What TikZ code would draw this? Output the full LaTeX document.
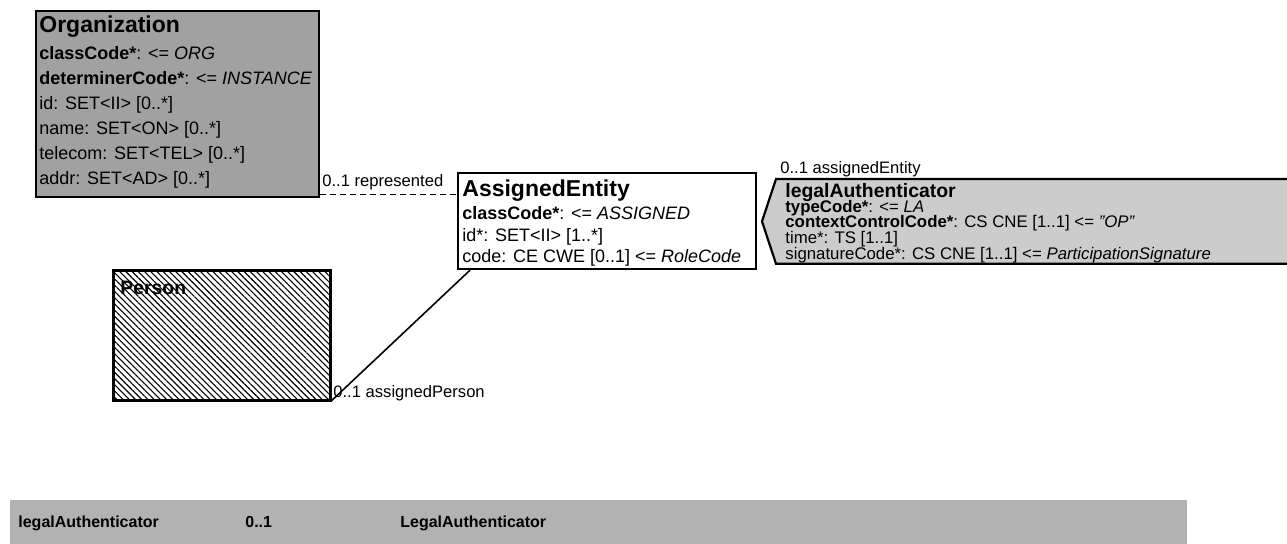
\documentclass[tikz,border=0pt]{standalone}
\usepackage{fontspec}
\setmainfont{Liberation Sans}[Ligatures=ResetAll]
\usetikzlibrary{patterns.meta}
\newcommand{\ttl}{\fontsize{11.5}{12}\selectfont\bfseries}
\newcommand{\ttls}{\fontsize{9.7}{10}\selectfont\bfseries}
\newcommand{\tightrows}{\fontsize{8.4}{7.9}\selectfont\lineskiplimit=-20pt\relax}
\tikzset{
  clsbox/.style={draw, line width=1.1pt, inner sep=0pt, anchor=north west},
  clstext/.style={anchor=north west, align=left, inner sep=0pt},
  assoclbl/.style={anchor=base west, inner sep=0pt, font=\fontsize{8.3}{9}\selectfont},
  rowtext/.style={anchor=base west, inner sep=0pt, font=\fontsize{8}{9}\selectfont\bfseries},
}

\begin{document}
\begin{tikzpicture}[x=0.5pt,y=-0.5pt]
   \useasboundingbox (0,0) rectangle (1287,544);
   % classes
   \node (org) [clsbox, fill=black!37, minimum width=141.5pt, minimum height=93pt] at (35,10) {};
   \node (orgtxt) [clstext, font=\fontsize{9}{12.5}\selectfont] at (39,15)
     {{\ttl Organization}\\[1pt]
      \textbf{classCode*}: <= \textit{ORG}\\
      \textbf{determinerCode*}: <= \textit{INSTANCE}\\
      id: SET<II> [0..*]\\
      name: SET<ON> [0..*]\\
      telecom: SET<TEL> [0..*]\\
      addr: SET<AD> [0..*]};
   \node (person) [clsbox, pattern={Lines[angle=-45,distance=2.2pt,line width=0.55pt]}, minimum width=108.5pt, minimum height=65pt] at (113,270) {};
   \node (persontxt) [clstext] at (120,281) {\ttls Person};
   \node (rep) [assoclbl] at (322,187) {0..1 represented};
   \node (ae) [clsbox, fill=white, minimum width=149pt, minimum height=48pt] at (457,172) {};
   \node (aetxt) [clstext, font=\fontsize{9}{10.75}\selectfont] at (462,179)
     {{\ttl AssignedEntity}\\[1pt]
      \textbf{classCode*}: <= \textit{ASSIGNED}\\
      id*: SET<II> [1..*]\\
      code: CE CWE [0..1] <= \textit{RoleCode}};
   % participation
   \node (legal) [inner sep=0pt, anchor=north west, minimum width=262pt, minimum height=42pt] at (776,179) {};
   \filldraw[fill=black!20, line width=1.1pt] (legal.north east) -- (legal.north west)
     -- ([xshift=-7pt]legal.west) -- (legal.south west) -- (legal.south east);
   \node (legaltxt) [clstext, font=\tightrows] at (785,183)
     {{\ttls legalAuthenticator}\\[-0.6pt]
      \textbf{typeCode*}: <= \textit{LA}\\
      \textbf{contextControlCode*}: CS CNE [1..1] <= \textit{"OP"}\\
      time*: TS [1..1]\\
      signatureCode*: CS CNE [1..1] <= \textit{ParticipationSignature}};
   \node (ent) [assoclbl] at (780,174) {0..1 assignedEntity};
   \node (aper) [assoclbl] at (333,398) {0..1 assignedPerson};
   % connectors
   \draw[densely dashed] ([yshift=2pt]org.south east) -- ([yshift=2pt]org.south east -| ae.west);
   \draw[line width=0.8pt] (person.south east) -- ([xshift=6.5pt]ae.south west);
   % table row
   \node (row) [inner sep=0pt, anchor=north west, fill=black!30, minimum width=588.5pt, minimum height=25pt] at (10,500) {};
   \node (rowname) [rowtext] at (18,528) {legalAuthenticator};
   \node (rowcard) [rowtext] at (245,528) {0..1};
   \node (rowtype) [rowtext] at (400,528) {LegalAuthenticator};
\end{tikzpicture}
\end{document}
